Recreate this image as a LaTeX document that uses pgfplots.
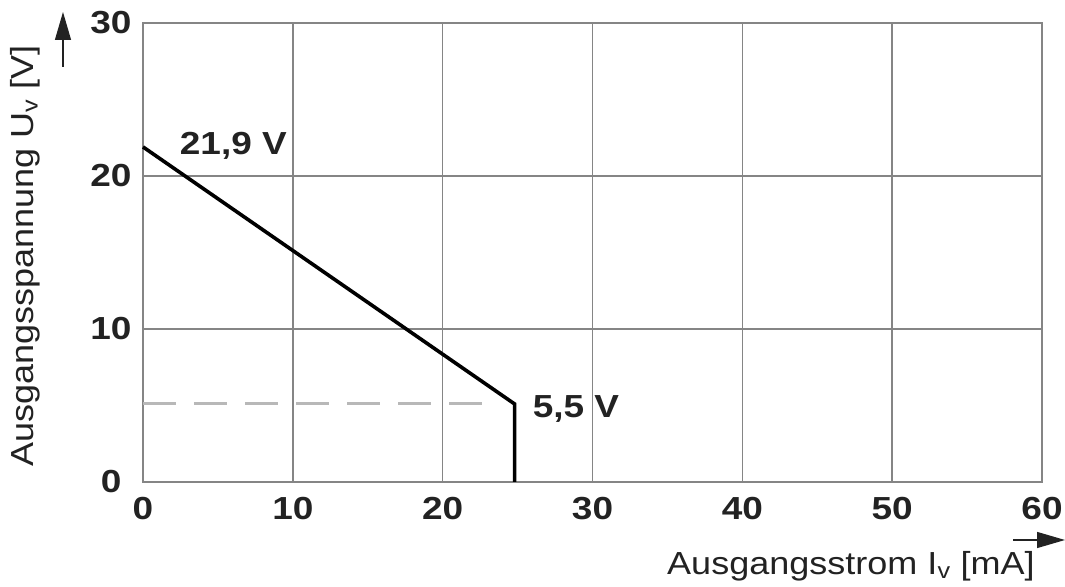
\documentclass[border=0pt]{standalone}
\usepackage{fontspec}
\setmainfont{Liberation Sans}
\newfontfamily\tickfont[FakeStretch=1.16]{Liberation Sans}
\newfontfamily\labfont[FakeStretch=1.13]{Liberation Sans}
\usepackage{pgfplots}
\pgfplotsset{compat=1.18}
\usetikzlibrary{arrows.meta}
\definecolor{gridc}{HTML}{858585}
\definecolor{dashc}{HTML}{B8B8B8}
\definecolor{txt}{HTML}{222222}
\begin{document}
\begin{tikzpicture}[x=1bp,y=1bp]
\useasboundingbox (-143,-105) rectangle (922,482);
\begin{axis}[at={(0,0)}, anchor=south west, scale only axis,
  width=899bp, height=459bp,
  xmin=0, xmax=60, ymin=0, ymax=30,
  xtick={0,10,20,30,40,50,60}, ytick={0,10,20,30},
  yticklabels={{0\hspace*{10bp}},10,20,30},
  grid=major, major grid style={gridc, line width=1.5bp},
  axis line style={gridc, line width=1.5bp},
  major tick length=0pt,
  /pgf/number format/assume math mode=true,
  tick label style={font=\fontsize{32}{32}\tickfont\bfseries, text=txt},
  xticklabel shift=12bp, yticklabel shift=8bp,
  clip=false]
\addplot[dashc, line width=3bp, dash pattern=on 33bp off 18bp] coordinates {(0,5.1) (23.4,5.1)};
\addplot[black, line width=3.6bp, line join=miter] coordinates {(0,21.9) (24.8,5.1) (24.8,0)};
\node[anchor=base west, font=\fontsize{32}{32}\tickfont\bfseries, text=txt, inner sep=0pt] at (axis cs:2.45,21.4) {21,9 V};
\node[anchor=base west, font=\fontsize{32}{32}\tickfont\bfseries, text=txt, inner sep=0pt] at (axis cs:26.0,4.2) {5,5 V};
\end{axis}
\node[rotate=90, anchor=base west, inner sep=0pt, font=\fontsize{32}{32}\labfont, text=txt] at (-109,15) {Ausgangsspannung U\textsubscript{v} [V]};
\draw[txt, line width=1.3bp, -{Triangle[length=28bp,width=16bp]}] (-80,415) -- (-80,470);
\node[anchor=base west, inner sep=0pt, font=\fontsize{32}{32}\labfont, text=txt] at (524,-93) {Ausgangsstrom I\textsubscript{v} [mA]};
\draw[txt, line width=1.3bp, -{Triangle[length=28bp,width=16bp]}] (870,-58) -- (922,-58);
\end{tikzpicture}
\end{document}
